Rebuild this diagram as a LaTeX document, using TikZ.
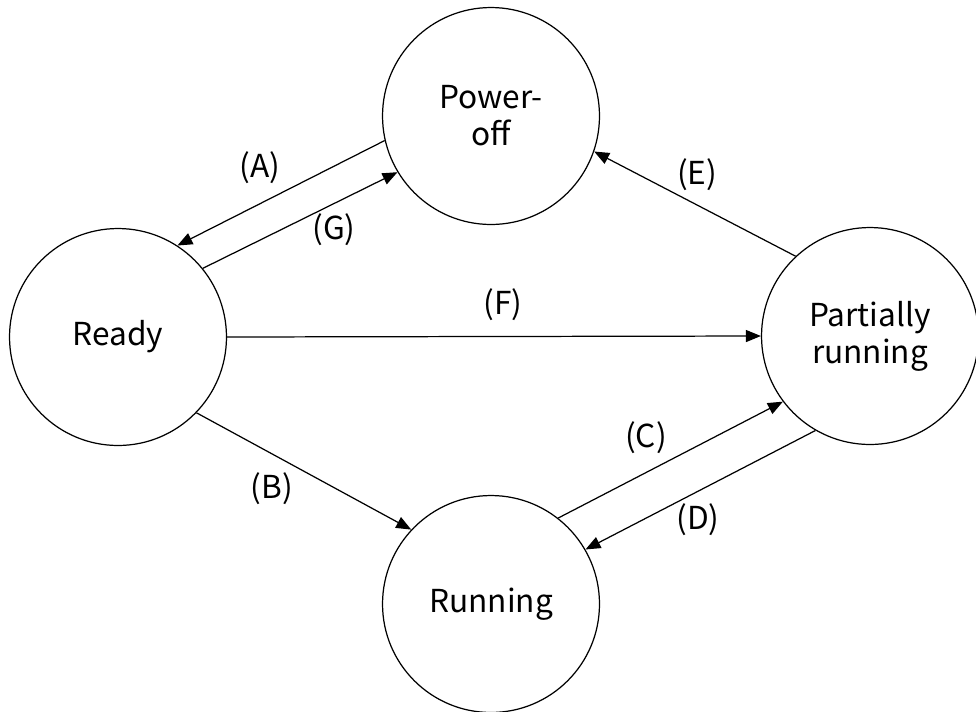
\documentclass[tikz,border=0pt]{standalone}
\usepackage{fontspec}
\setmainfont{Noto Sans CJK JP}
\usetikzlibrary{arrows.meta}

\begin{document}
\begin{tikzpicture}[x = 0.02cm, y = -0.02cm,
	etat/.style	= {draw, circle, line width=0.7pt, minimum size=4.34cm, inner sep=0pt, align=center, font=\fontsize{18}{21}\selectfont},
	etiq/.style	= {font=\fontsize{18}{21}\selectfont},
	trans/.style	= {-{Triangle[length=3mm, width=2.4mm]}, line width=0.7pt}]
				% Cadre
				\useasboundingbox		(0,0)		rectangle	(976,711)	;
				% Etats
				\node [etat] (off)		at (491,116)	{Power-\\off}		;
				\node [etat] (ready)	at (118,337)	{Ready}				;
				\node [etat] (partial)	at (870,336)	{Partially\\running}	;
				\node [etat] (run)		at (491,604)	{Running}			;
				% Transitions
				\draw [trans]	(off.193)		-- (ready.57)	;	% A
				\draw [trans]	(ready.39)		-- (off.211)	;	% G
				\draw [trans]	(partial.133)	-- (off.341)	;	% E
				\draw [trans]	(ready.east)	-- (partial.west)	;	% F
				\draw [trans]	(ready.316)		-- (run.137)	;	% B
				\draw [trans]	(run.52)		-- (partial.217)	;	% C
				\draw [trans]	(partial.240)	-- (run.30)		;	% D
				% Etiquettes
				\node [etiq] (lA)	at (260,168)	{(A)}	;
				\node [etiq] (lG)	at (334,230)	{(G)}	;
				\node [etiq] (lE)	at (697,175)	{(E)}	;
				\node [etiq] (lF)	at (503,305)	{(F)}	;
				\node [etiq] (lB)	at (272,489)	{(B)}	;
				\node [etiq] (lC)	at (646,438)	{(C)}	;
				\node [etiq] (lD)	at (698,520)	{(D)}	;
\end{tikzpicture}
\end{document}
